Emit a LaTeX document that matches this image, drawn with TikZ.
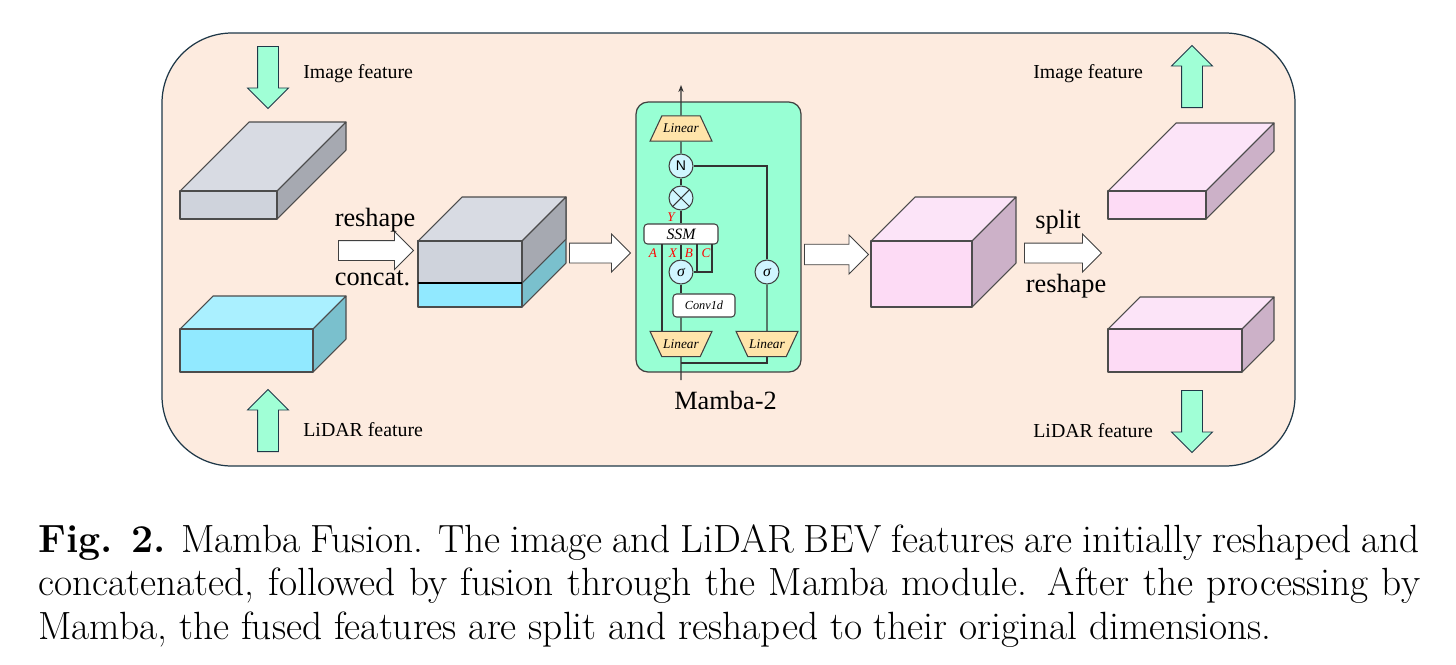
\documentclass[tikz,border=0pt]{standalone}
\usepackage{fontspec}
\newfontfamily\timesfont{Liberation Serif}
\newfontfamily\arialfont{Liberation Sans}
\usetikzlibrary{shapes.geometric,shapes.arrows,arrows.meta}

\definecolor{peach}{RGB}{253,235,223}
\definecolor{outline}{RGB}{31,56,72}
\definecolor{mint}{RGB}{160,255,214}
\definecolor{mambagreen}{RGB}{152,255,212}
\definecolor{grayF}{RGB}{207,211,220}
\definecolor{grayT}{RGB}{216,219,227}
\definecolor{grayS}{RGB}{166,169,177}
\definecolor{cyanF}{RGB}{145,233,255}
\definecolor{cyanT}{RGB}{170,240,255}
\definecolor{cyanS}{RGB}{122,192,205}
\definecolor{pinkF}{RGB}{253,219,245}
\definecolor{pinkT}{RGB}{252,228,248}
\definecolor{pinkS}{RGB}{204,177,200}
\definecolor{circfill}{RGB}{208,246,255}
\definecolor{linfill}{RGB}{255,228,170}

\tikzset{
  slabline/.style={draw=black!70, line width=0.6pt, line join=round},
  blockarrow/.style={single arrow, draw=black!75, fill=white, inner sep=0.19cm,
    minimum width=0.74cm, single arrow head extend=0.18cm, line width=0.5pt},
  featarrow/.style={single arrow, draw=outline, fill=mint, inner sep=0.2cm,
    minimum width=0.8cm, single arrow head extend=0.2cm, minimum height=1.24cm, line width=0.5pt},
  opcirc/.style={circle, draw=black!75, fill=circfill, minimum size=0.48cm, inner sep=0pt, line width=0.6pt},
  linbox/.style={trapezium, draw=black!75, fill=linfill, trapezium left angle=65,
    trapezium right angle=65, minimum width=0pt, minimum height=0pt,
    inner xsep=0.8pt, inner ysep=4.6pt, line width=0.6pt,
    font=\timesfont\itshape\fontsize{7.6}{9}\selectfont},
  opbox/.style={rectangle, rounded corners=2pt, draw=black!75, fill=white, inner sep=0pt, line width=0.6pt},
  mline/.style={draw=black!80, line width=0.6pt},
  biglbl/.style={font=\timesfont\fontsize{15}{18}\selectfont, inner sep=0pt},
  featlbl/.style={font=\timesfont\fontsize{11.3}{13}\selectfont, inner sep=0pt},
  redlbl/.style={font=\timesfont\itshape\fontsize{7.5}{9}\selectfont, text=red, inner sep=0pt}
}

% 3d feature slab: x, y (top left of front), width, height, depth, front, top, side
\newcommand{\featslab}[8]{%
  \filldraw[slabline, fill=#7] (#1,#2) -- ++(#5,-#5) -- ++(#3,0) -- ++(-#5,#5) -- cycle;
  \filldraw[slabline, fill=#8] (#1+#3,#2) -- ++(#5,-#5) -- ++(0,#4) -- ++(-#5,#5) -- cycle;
  \filldraw[slabline, fill=#6] (#1,#2) rectangle ++(#3,#4);
}

\begin{document}
\begin{tikzpicture}[x=0.02cm, y=-0.02cm]
  \useasboundingbox (0,0) rectangle (1456,664);

  % background panel
  \draw[draw=outline, fill=peach, line width=0.7pt, rounded corners=1.4cm] (162,33) rectangle (1295,466);

  % slabs
  \foreach \x/\y/\w/\h/\d/\f/\t/\s in {
      180/191/97/28/69/grayF/grayT/grayS,
      180/329/133/43/33/cyanF/cyanT/cyanS,
      871/241/101/66/44/pinkF/pinkT/pinkS,
      1108/191/98/28/68/pinkF/pinkT/pinkS,
      1108/329/134/43/32/pinkF/pinkT/pinkS}{
    \featslab{\x}{\y}{\w}{\h}{\d}{\f}{\t}{\s}
  }
  %%% concatenated block
  \featslab{418}{241}{104}{66}{44}{cyanF}{grayT}{cyanS}
  \filldraw[slabline, fill=grayS] (522,241) -- (566,197) -- (566,239) -- (522,283) -- cycle;
  \filldraw[slabline, fill=grayF] (418,241) rectangle (522,283);
  \draw[black, line width=1pt] (418,283) -- (522,283);

  % feature arrows
  \node[featarrow, shape border rotate=270, anchor=tail] (inimg) at (268,46) {};
  \node[featarrow, shape border rotate=90, anchor=tail] (inlid) at (268,452) {};
  \node[featarrow, shape border rotate=90, anchor=tail] (outimg) at (1192,108) {};
  \node[featarrow, shape border rotate=270, anchor=tail] (outlid) at (1192,390) {};
  \node[featlbl, anchor=base west] (tinimg) at (303,78) {Image feature};
  \node[featlbl, anchor=base west] (tinlid) at (303,436) {LiDAR feature};
  \node[featlbl, anchor=base west] (toutimg) at (1033,78) {Image feature};
  \node[featlbl, anchor=base west] (toutlid) at (1033,437) {LiDAR feature};

  % block arrows
  \node[blockarrow, minimum height=1.5cm, anchor=tail] (concat) at (338,250.5) {};
  \node[blockarrow, minimum height=1.22cm, anchor=tail] (tomamba) at (569,253) {};
  \node[blockarrow, minimum height=1.28cm, minimum width=0.78cm, anchor=tail] (frommamba) at (804,254.5) {};
  \node[blockarrow, minimum height=1.54cm, anchor=tail] (split) at (1024,253) {};
  \node[biglbl, anchor=base] (treshape) at (375,226) {reshape};
  \node[biglbl, anchor=base] (tconcat) at (372.5,285) {concat.};
  \node[biglbl, anchor=base] (tsplit) at (1058,228) {split};
  \node[biglbl, anchor=base] (treshape2) at (1066,292) {reshape};

  % mamba block
  \node[draw=black!75, fill=mambagreen, rounded corners=0.24cm, line width=0.7pt,
        minimum width=3.3cm, minimum height=5.4cm] (mamba) at (718.5,237) {};
  \node[biglbl, anchor=base] (tmamba) at (725.5,409) {Mamba-2};

  \coordinate (out) at (681,85);
  \coordinate (in) at (681,380);
  \coordinate (jn) at (681,363);
  \coordinate (ta) at (662,244);
  \coordinate (tb) at (697,244);
  \coordinate (tc) at (712,244);

  \node[linbox] (lin1) at (681,128.5) {Linear};
  \node[opcirc, font=\arialfont\fontsize{8}{9}\selectfont] (nrm) at (681,166) {N};
  \node[opcirc] (mul) at (681,198) {};
  \node[opbox, minimum width=1.48cm, minimum height=0.4cm,
        font=\timesfont\itshape\fontsize{9}{10}\selectfont] (ssm) at (681,234) {SSM};
  \node[opcirc, font=\timesfont\itshape\fontsize{9}{10}\selectfont] (sig1) at (681,272) {σ};
  \node[opbox, minimum width=1.24cm, minimum height=0.46cm,
        font=\timesfont\itshape\fontsize{7}{8}\selectfont] (conv) at (704,305.5) {Conv1d};
  \node[linbox, shape border rotate=180] (lin2) at (681,344) {Linear};
  \node[linbox, shape border rotate=180] (lin3) at (767,344) {Linear};
  \node[opcirc, font=\timesfont\itshape\fontsize{9}{10}\selectfont] (sig2) at (767,272) {σ};

  % lines
  \draw[mline, -{Stealth[length=4pt, width=3pt]}] (lin1) -- (out);
  \draw[mline] (lin1) -- (nrm);
  \draw[mline] (nrm) -- (mul);
  \draw[mline] (mul.45) -- (mul.225) (mul.135) -- (mul.315);
  \draw[mline] (mul) -- (ssm);
  \draw[mline] (ssm) -- (sig1);
  \draw[mline] (sig1) -- (conv.north -| sig1);
  \draw[mline] (conv.south -| lin2) -- (lin2);
  \draw[mline] (ta) -- (ta |- lin2.north);
  \draw[mline] (tb) -- (tb |- sig1);
  \draw[mline] (sig1) -- (tc |- sig1) -- (tc);
  \draw[mline] (lin3) -- (sig2);
  \draw[mline] (sig2) |- (nrm);
  \draw[mline] (in) -- (lin2);
  \draw[mline] (jn) -| (lin3);

  % ssm labels
  \node[redlbl] (ly) at (671,217) {Y};
  \node[redlbl] (la) at (653,253) {A};
  \node[redlbl] (lx) at (673,253) {X};
  \node[redlbl] (lb) at (689,253) {B};
  \node[redlbl] (lc) at (706,253) {C};

  % caption
  \node[anchor=north west, inner sep=0pt, text width=27.64cm, align=justify,
        font=\fontsize{22.4}{24.8}\selectfont] (cap) at (38,524)
    {\textbf{Fig. 2.} Mamba Fusion. The image and LiDAR BEV features are initially reshaped and\linebreak
     concatenated, followed by fusion through the Mamba module. After the processing by\linebreak
     Mamba, the fused features are split and reshaped to their original dimensions.};
\end{tikzpicture}
\end{document}
